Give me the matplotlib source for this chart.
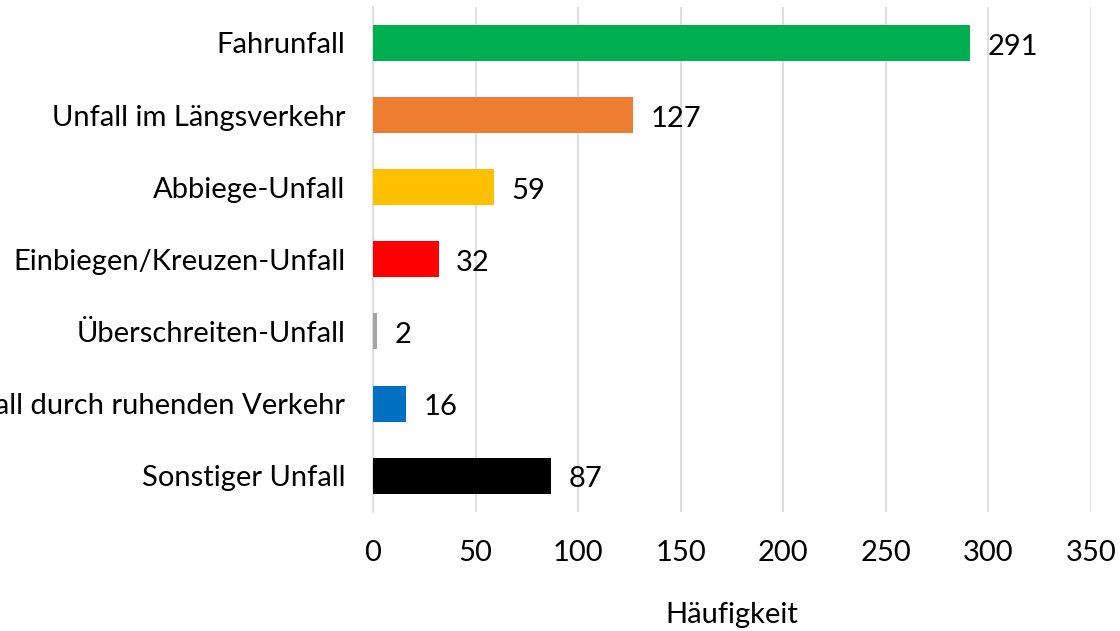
import matplotlib
matplotlib.use("Agg")
import matplotlib.pyplot as plt

categories = ["Fahrunfall", "Unfall im Längsverkehr", "Abbiege-Unfall",
              "Einbiegen/Kreuzen-Unfall", "Überschreiten-Unfall",
              "Unfall durch ruhenden Verkehr", "Sonstiger Unfall"]
counts = [291, 127, 59, 32, 2, 16, 87]
colors = ["#00B050", "#ED7D31", "#FFC000", "#FF0000", "#A5A5A5", "#0070C0", "#000000"]
xticks = [0, 50, 100, 150, 200, 250, 300, 350]

plt.rcParams['font.family'] = ['Lato', 'DejaVu Sans']
fs = 21

fig = plt.figure(figsize=(11.2, 6.31), dpi=100)
ax = fig.add_axes([0.333, 0.189, 0.641, 0.8])

pos = list(range(len(categories)))
ax.barh(pos, counts, height=0.5, color=colors, zorder=3)
ax.set_ylim(len(categories) - 0.5, -0.5)
ax.set_xlim(0, 350)
ax.set_xticks(xticks)
ax.set_yticks(pos)
ax.set_yticklabels(categories, fontsize=fs)
ax.tick_params(axis='x', labelsize=fs, length=0, pad=20)
ax.tick_params(axis='y', length=0, pad=20)

# Werte neben den Balken
for p, v in zip(pos, counts):
    ax.text(v + 8.5, p + 0.05, str(v), va='center', ha='left', fontsize=fs)

ax.grid(True, axis='x', color='#D9D9D9', linewidth=1.2, zorder=0)
for s in ['top', 'right', 'bottom']:
    ax.spines[s].set_visible(False)
ax.spines['left'].set_color('#D9D9D9')
ax.spines['left'].set_linewidth(1.2)

ax.set_xlabel("Häufigkeit", fontsize=fs, labelpad=26)

fig.savefig("out.png", dpi=100)
